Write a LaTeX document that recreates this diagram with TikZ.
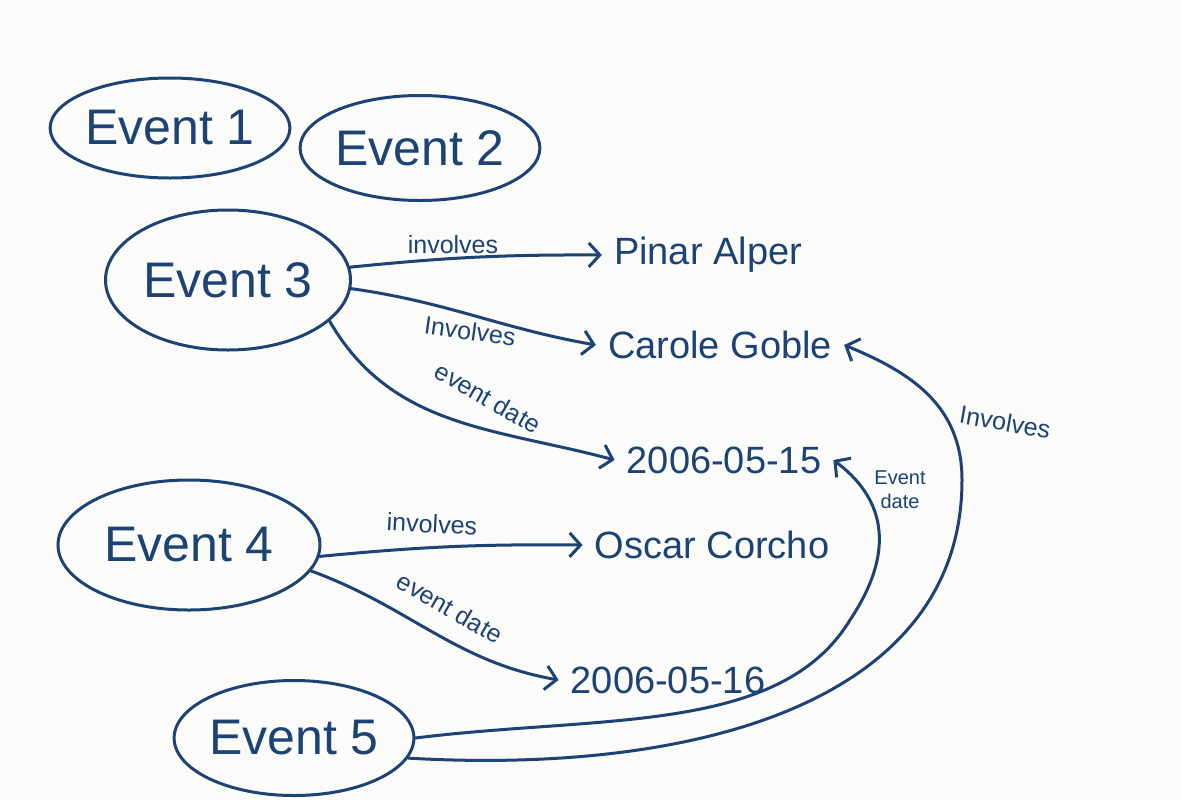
\documentclass[tikz,border=0pt]{standalone}
\usepackage{fontspec}
\setmainfont{Liberation Sans}
\usetikzlibrary{shapes.geometric,arrows.meta}
\definecolor{ink}{HTML}{1D4374}
\definecolor{paper}{HTML}{FBFBFA}
\begin{document}
\begin{tikzpicture}[x=1pt, y=-1pt, >={Straight Barb[length=11pt,width=24pt]},
    event/.style={ellipse, draw=ink, line width=3pt, inner sep=0pt, text=ink, font=\fontsize{50}{54}\selectfont},
    val/.style={text=ink, inner sep=12pt, font=\fontsize{38}{42}\selectfont},
    lbl/.style={text=ink, inner sep=0pt, font=\fontsize{25}{28}\selectfont},
    link/.style={->, draw=ink, line width=3pt, line cap=round}]
    % 1. Khung
    \fill[paper] (0,0) rectangle (1181,801);
    \useasboundingbox (0,0) rectangle (1181,801);

    % 2. Cac su kien
    \node[event, minimum width=205, minimum height=100] (e1) at (170,128) {Event 1};
    \node[event, minimum width=230, minimum height=105] (e2) at (420,148) {Event 2};
    \node[event, minimum width=245, minimum height=140] (e3) at (228,280) {Event 3};
    \node[event, minimum width=262, minimum height=130] (e4) at (189,545) {Event 4};
    \node[event, minimum width=232, minimum height=115] (e5) at (294,738) {Event 5};

    % 3. Cac gia tri
    \node[val] (pinar) at (708,255) {Pinar Alper};
    \node[val] (carole) at (720,345) {Carole Goble};
    \node[val] (d15) at (724,460) {2006-05-15};
    \node[val] (oscar) at (712,545) {Oscar Corcho};
    \node[val] (d16) at (668,680) {2006-05-16};

    % 4. Cac canh
    \draw[link] (e3.6) to[bend left=3] (pinar.west);
    \draw[link] (e3.-4) to[out=-8, in=170] (carole.west);
    \draw[link] (e3.-22) to[out=-60, in=165] (d15.west);
    \draw[link] (e4.-5) to[bend left=3] (oscar.west);
    \draw[link] (e4.-12) to[out=-20, in=170] (d16.west);
    \draw[link] (e5.east) .. controls (600,715) and (780,735) .. (850,620)
        .. controls (900,545) and (880,495) .. (d15.east);
    \draw[link] (e5.-10) .. controls (700,775) and (962,700) .. (962,480)
        .. controls (962,405) and (910,372) .. (carole.east);

    % 5. Nhan
    \node[lbl] (l1) at (453,245) {involves};
    \node[lbl, rotate=-8] (l2) at (470,331) {Involves};
    \node[lbl, rotate=-30] (l3) at (488,398) {event date};
    \node[lbl, rotate=-3] (l4) at (432,524) {involves};
    \node[lbl, rotate=-30] (l5) at (450,608) {event date};
    \node[lbl, rotate=-10] (l6) at (1005,422) {Involves};
    \node[lbl, align=center, font=\fontsize{20}{24}\selectfont] (l7) at (900,490) {Event\\date};
\end{tikzpicture}
\end{document}
